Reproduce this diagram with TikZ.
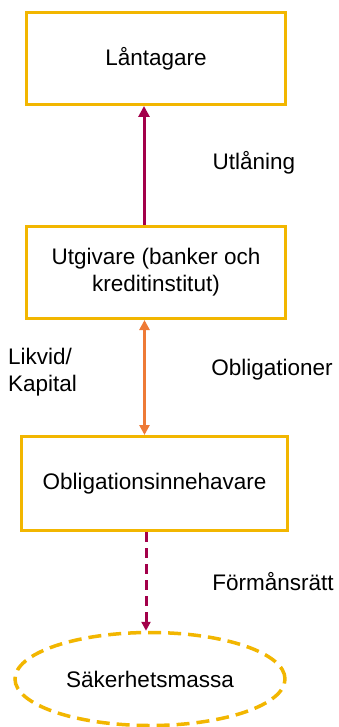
\documentclass[tikz,border=0pt]{standalone}
\usepackage{fontspec}
\setmainfont{Liberation Sans}
\usetikzlibrary{arrows.meta,shapes.geometric}
\definecolor{boxYLW}{HTML}{F2B600}
\definecolor{arrRED}{HTML}{A3004A}
\definecolor{arrORG}{HTML}{EE7A36}
\begin{document}
\begin{tikzpicture}[x=1pt, y=-1pt,
  party/.style={draw=boxYLW, line width=3pt, minimum width=259pt, minimum height=92pt,
                align=center, inner sep=2pt, font=\fontsize{22.5}{27}\selectfont},
  lbl/.style={font=\fontsize{22.5}{27}\selectfont, align=left, inner sep=0pt},
  flow/.style={line width=3pt, -{Triangle[length=11pt,width=11pt]}}]
\useasboundingbox (0,0) rectangle (338,727);
% parties
\node[party] (borrower) at (156,58.5) {Låntagare};
\node[party] (issuer) at (156,272.5) {Utgivare (banker och\\kreditinstitut)};
\node[party, minimum width=266pt, minimum height=94pt] (holder) at (154.5,483.5) {Obligationsinnehavare};
\node[lbl, draw=boxYLW, line width=3.5pt, dash pattern=on 13pt off 7pt, ellipse,
      minimum width=270pt, minimum height=93pt] (pool) at (150,679) {Säkerhetsmassa};
% flows
\draw[flow, arrRED] ([xshift=-12pt]issuer.north) -- ([xshift=-12pt]issuer.north |- borrower.south);
\draw[flow, arrORG, line width=2.6pt, {Triangle[length=10pt,width=10pt]}-{Triangle[length=10pt,width=10pt]}]
  ([xshift=-10pt]holder.north) -- ([xshift=-10pt]holder.north |- issuer.south);
\draw[flow, arrRED, dash pattern=on 10pt off 6pt, -{Triangle[length=9pt,width=9pt]}]
  ([xshift=-8.5pt]holder.south) -- ([xshift=-8.5pt]holder.south |- pool.north);
% labels
\node[lbl] (lend) at (254,163) {Utlåning};
\node[lbl, anchor=west] (cash) at (8,372) {Likvid/\\Kapital};
\node[lbl] (bonds) at (272,370) {Obligationer};
\node[lbl] (prio) at (273,582) {Förmånsrätt};
\end{tikzpicture}
\end{document}
